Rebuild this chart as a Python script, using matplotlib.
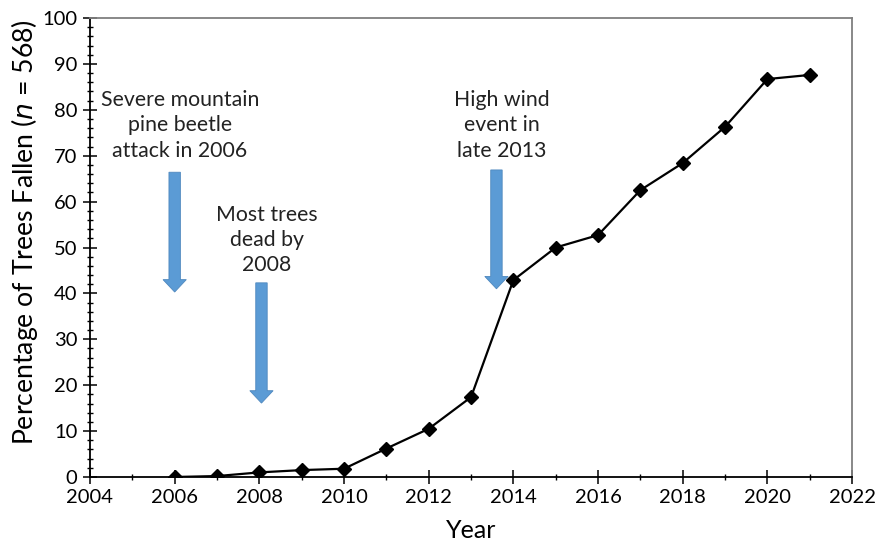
import matplotlib.pyplot as plt
from matplotlib.ticker import MultipleLocator

plt.rcParams['font.family'] = ['Lato', 'DejaVu Sans']

years = [2006, 2007, 2008, 2009, 2010, 2011, 2012, 2013,
         2014, 2015, 2016, 2017, 2018, 2019, 2020, 2021]
pct_fallen = [0.0, 0.2, 1.0, 1.5, 1.8, 6.2, 10.5, 17.4,
              42.9, 50.0, 52.7, 62.5, 68.4, 76.3, 86.7, 87.6]

# annotation text, x position, arrow top, arrow tip, text centre y
notes = ["Severe mountain\npine beetle\nattack in 2006",
         "Most trees\ndead by\n2008",
         "High wind\nevent in\nlate 2013"]
note_x = [2006.0, 2008.05, 2013.6]
arrow_top = [66.4, 42.3, 66.9]
arrow_tip = [40.3, 16.1, 41.0]
note_y = [76.6, 51.6, 76.6]

fig = plt.figure(figsize=(8.78, 5.46), dpi=100)
ax = fig.add_axes([0.1025, 0.1264, 0.868, 0.8406])

ax.plot(years, pct_fallen, color='black', linewidth=1.6,
        marker='D', markersize=7, zorder=3)

arrow_color = '#5B9BD5'
for txt, x, y0, y1, ty in zip(notes, note_x, arrow_top, arrow_tip, note_y):
    ax.arrow(x, y0, 0, y1 - y0, width=0.27, head_width=0.55, head_length=2.7,
             length_includes_head=True, facecolor=arrow_color,
             edgecolor='#4F88BE', linewidth=0.6, zorder=2)
    ax.text(x + 0.12, ty, txt, ha='center', va='center', fontsize=15.3,
            linespacing=1.32, color='#222222')

ax.set_xlim(2004, 2022)
ax.set_ylim(0, 100)
ax.xaxis.set_major_locator(MultipleLocator(2))
ax.xaxis.set_minor_locator(MultipleLocator(1))
ax.yaxis.set_major_locator(MultipleLocator(10))
ax.yaxis.set_minor_locator(MultipleLocator(2))
ax.tick_params(which='major', direction='inout', length=10, width=1.1,
               labelsize=14.5, colors='black', pad=4)
ax.tick_params(which='minor', direction='inout', length=5, width=1.0)

for side in ['left', 'bottom']:
    ax.spines[side].set_linewidth(1.3)
    ax.spines[side].set_color('black')
for side in ['top', 'right']:
    ax.spines[side].set_linewidth(1.3)
    ax.spines[side].set_color('#7f7f7f')

ax.set_xlabel("Year", fontsize=18, labelpad=9)
ax.set_ylabel("Percentage of Trees Fallen ($\\it{n}$ = 568)", fontsize=19.2)
ax.yaxis.set_label_coords(-0.065, 0.534)

fig.savefig("out.png", dpi=100)
